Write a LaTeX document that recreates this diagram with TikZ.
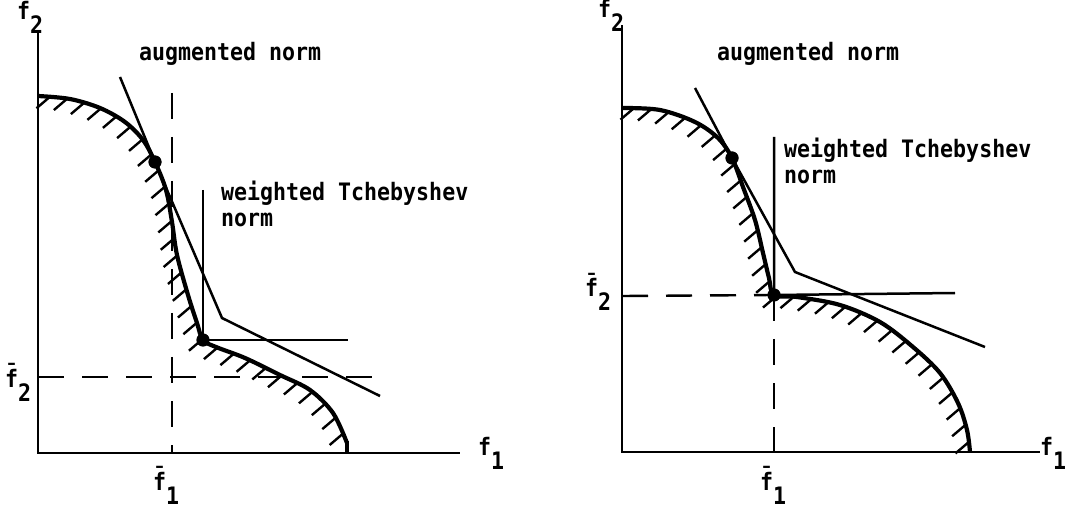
\documentclass[tikz,border=0pt]{standalone}
\usepackage{fontspec}
\newfontfamily\tw[FakeStretch=0.9]{DejaVu Sans Mono}
\usetikzlibrary{decorations.markings}
\newcommand\lowsub[1]{\raisebox{-14pt}{#1}}
\begin{document}
\begin{tikzpicture}[x=1pt,y=-1pt,
  axis/.style={line width=2.5pt},
  curve/.style={line width=4.2pt, line join=round},
  normline/.style={line width=2.5pt, line join=miter},
  guide/.style={line width=2.4pt, dash pattern=on 26pt off 18pt},
  hatchline/.style={line width=2.4pt},
  hatched/.style={postaction={decorate,decoration={markings,
     mark=between positions 12pt and -6pt step 17.5pt with
     {\pgftransformresetnontranslations\draw[hatchline] (0,0) -- (-13.5,11.5);}}}},
  dot/.style={circle,fill=black,inner sep=0pt,minimum size=13pt},
  lbl/.style={font=\tw\bfseries\fontsize{24}{26}\selectfont, inner sep=0pt},
]
\useasboundingbox (0,0) rectangle (1072,513);

% ---------------- left panel ----------------
\coordinate (LY) at (38,33);
\coordinate (LO) at (38,453);
\coordinate (LX) at (460,453);
\draw[axis] (LY) -- (LO) -- (LX);

% dashed guides
\coordinate (LvT) at (172,93);
\coordinate (LvB) at (172,453);
\coordinate (LhL) at (38,377);
\coordinate (LhR) at (378,377);
\draw[guide] (LvT) -- (LvB);
\draw[guide] (LhL) -- (LhR);

% feasible region boundary
\draw[curve,hatched] plot[smooth,tension=0.55] coordinates {
  (38,96) (70,99) (100,108) (125,122) (143,140) (155,162) (166,190)
  (172,222) (177,255) (188,295) (197,323) (203,340) (216,347) (245,358)
  (280,375) (310,390) (333,413) (347,443)};
\draw[curve] (347,441) -- (347,453);

\node[dot] (L1) at (155,162) {};
\node[dot] (L2) at (203,340) {};

% augmented norm contour
\coordinate (La0) at (120,77);
\coordinate (Lak) at (222,318);
\coordinate (La1) at (380,396);
\draw[normline] (La0) -- (L1.center) -- (Lak) -- (La1);

% weighted Tchebyshev contour
\coordinate (Lt0) at (203,190);
\coordinate (Lt1) at (348,340);
\draw[normline] (Lt0) -- (L2.center) -- (Lt1);

\node[lbl,anchor=base west] (Lf2) at (17,20) {f\lowsub{2}};
\node[lbl,anchor=base west] (Lf1) at (478,455) {f\lowsub{1}};
\node[lbl,anchor=base west] (Lfb2) at (5,387) {\=f\lowsub{2}};
\node[lbl,anchor=base west] (Lfb1) at (153,490) {\=f\lowsub{1}};
\node[lbl,anchor=base west] (Laug) at (139,61) {augmented norm};
\node[lbl,anchor=north west,align=left] (Ltch) at (221,181) {weighted Tchebyshev\\norm};

% ---------------- right panel ----------------
\coordinate (RY) at (622,25);
\coordinate (RO) at (622,452);
\coordinate (RX) at (1040,452);
\draw[axis] (RY) -- (RO) -- (RX);

\node[dot] (R1) at (732,158) {};
\node[dot] (R2) at (774,295) {};

\coordinate (RhL) at (622,296);
\coordinate (RvB) at (774,452);
\draw[guide] (RhL) -- (R2.center);
\draw[guide] (R2.center) -- (RvB);

\draw[curve,hatched] plot[smooth,tension=0.55] coordinates {
  (622,108) (660,110) (695,122) (718,138) (732,158) (743,187) (755,220)
  (763,253) (769,278) (774,295) (797,297) (840,305) (880,322) (913,347)
  (940,373) (958,403) (967,430) (970,452)};

\coordinate (Ra0) at (695,88);
\coordinate (Rak) at (795,272);
\coordinate (Ra1) at (985,347);
\draw[normline] (Ra0) -- (R1.center) -- (Rak) -- (Ra1);

\coordinate (Rt0) at (774,137);
\coordinate (Rt1) at (955,293);
\draw[normline] (Rt0) -- (R2.center) -- (Rt1);

\node[dot] at (R1) {};
\node[dot] at (R2) {};
\node[dot] at (L1) {};
\node[dot] at (L2) {};

\node[lbl,anchor=base west] (Rf2) at (598,18) {f\lowsub{2}};
\node[lbl,anchor=base west] (Rf1) at (1040,455) {f\lowsub{1}};
\node[lbl,anchor=base west] (Rfb2) at (585,297) {\=f\lowsub{2}};
\node[lbl,anchor=base west] (Rfb1) at (760,490) {\=f\lowsub{1}};
\node[lbl,anchor=base west] (Raug) at (717,61) {augmented norm};
\node[lbl,anchor=north west,align=left] (Rtch) at (784,138) {weighted Tchebyshev\\norm};
\end{tikzpicture}
\end{document}
